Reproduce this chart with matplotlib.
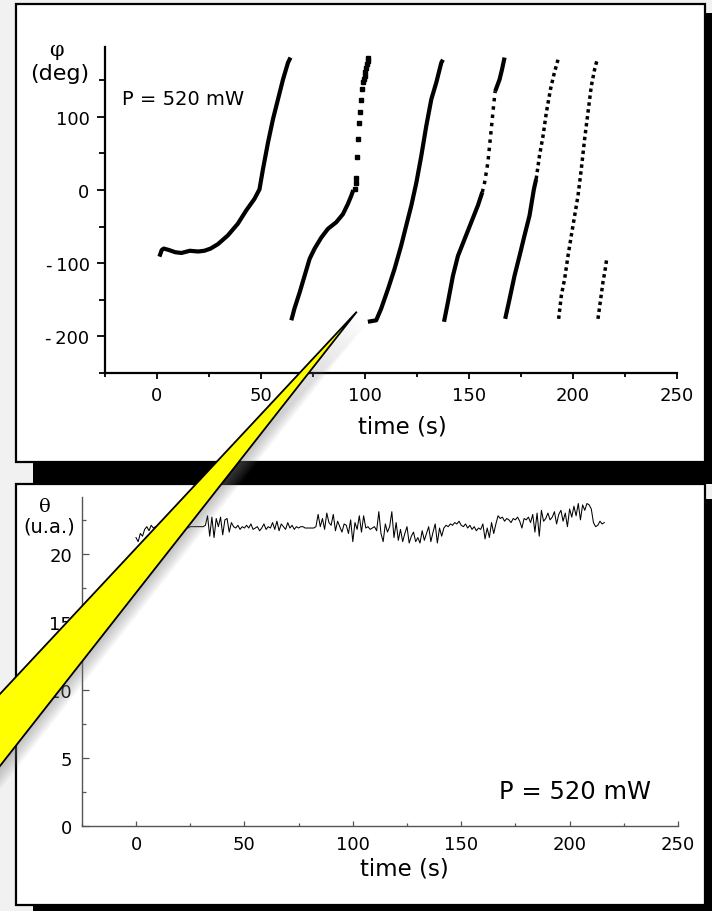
import numpy as np
import matplotlib
matplotlib.use("Agg")
import matplotlib.pyplot as plt
from matplotlib.patches import Rectangle, Polygon
from matplotlib.ticker import FixedLocator

# ------------------------------------------------------------------
# DATA
# top panel: phase phi (deg) vs time (s), one list per 2*pi branch
# "dense" = nearly continuous runs of samples, "dots" = sparse samples
seg1_t = [1.4, 2.5, 3.5, 6.0, 9.0, 12.0, 16.0, 20.0, 23.0, 26.0, 29.5, 34.3, 39.1,
          43.1, 47.1, 49.5, 51.2, 53.6, 56.0, 58.4, 60.8, 63.2, 64.4]
seg1_phi = [-91, -82, -80, -82, -85, -86, -83, -84, -83, -80, -74, -62, -46,
            -28, -12, 1, 29, 65, 97, 124, 151, 174, 181]

seg2_t = [64.8, 66.3, 68.8, 71.2, 73.6, 76.0, 79.2, 82.4, 86.4, 89.6, 92.0, 93.6, 94.6]
seg2_phi = [-178, -162, -140, -117, -94, -80, -65, -53, -44, -33, -19, -8, 0]
seg2_dot_t = [95.2, 95.7, 96.0, 96.3, 96.8, 97.3, 97.8, 98.1, 98.8, 99.2, 99.6,
              100.0, 100.4, 100.8, 101.2, 101.6, 101.9]
seg2_dot_phi = [1, 10, 17, 45, 70, 91, 106, 123, 138, 147, 152,
                156, 161, 167, 172, 176, 181]

seg3_t = [101.6, 105.6, 108.0, 111.3, 114.4, 117.6, 120.0, 122.5, 124.9, 127.3,
          129.7, 132.1, 134.5, 136.9, 137.7]
seg3_phi = [-180, -178, -162, -135, -108, -76, -49, -21, 10, 47, 88, 124, 147, 174, 178]

seg4_t = [138.2, 140.1, 142.5, 144.9, 148.1, 151.3, 154.5, 156.6]
seg4_phi = [-180, -153, -117, -90, -67, -44, -21, -3]
seg4_dot_t = [156.6, 157.7, 159.3, 160.9, 162.2, 162.8]
seg4_dot_phi = [-3, 10, 38, 83, 120, 135]
seg4_top_t = [162.8, 164.9, 166.1, 167.3]
seg4_top_phi = [135, 151, 165, 181]

seg5_t = [167.6, 169.7, 172.1, 174.5, 176.9, 179.3, 181.4, 182.5]
seg5_phi = [-176, -149, -117, -90, -62, -35, 1, 15]
seg5_dot_t = [182.5, 184.1, 185.8, 187.4, 189.4, 191.3, 193.0]
seg5_dot_phi = [15, 47, 74, 106, 138, 161, 178]

seg6_dot_t = [193.3, 194.6, 196.2, 197.8, 199.4, 201.0, 202.6, 204.2, 205.8,
              207.4, 209.0, 210.6, 211.9]
seg6_dot_phi = [-176, -144, -121, -90, -62, -35, -8, 29, 70, 106, 142, 165, 179]

seg7_dot_t = [212.2, 213.5, 214.6, 215.7, 216.4]
seg7_dot_phi = [-176, -149, -126, -108, -94]

# bottom panel: theta (u.a.) sampled every second from t = 0 s
theta_t0 = 0.0
theta_dt = 1.0
theta = [
    21.2, 20.9, 21.5, 21.3, 21.8,
    22.0, 21.7, 22.1, 21.9, 22.0,
    22.0, 21.8, 22.1, 22.0, 22.2, 21.9, 22.0, 22.1, 21.9, 22.0, 22.2, 22.1, 22.0, 22.0, 21.9,
    22.0, 22.0, 22.0, 22.0, 22.0, 22.0, 22.0,
    22.1, 22.8, 21.3, 22.7, 21.2, 22.6, 22.0, 22.7, 21.4, 22.5, 22.6, 21.6, 22.3, 22.0, 21.9,
    22.1, 21.8, 22.0, 21.9,
    22.1, 21.9, 22.2, 21.8, 21.9, 22.0, 21.7, 21.9, 22.2, 21.8, 22.0, 21.9, 22.3, 21.8, 22.4,
    21.7, 22.2, 22.0, 21.8, 22.3, 21.9, 22.1, 21.8, 22.0, 21.9, 22.0, 22.0,
    21.9, 21.9, 21.9, 21.9, 21.9, 22.0,
    22.9, 22.0, 22.6, 21.8, 23.0, 22.3, 22.1, 22.9, 21.7, 22.4, 22.0, 21.6, 22.2, 22.1, 21.5,
    22.5, 20.9, 22.3, 21.8, 22.8, 21.6,
    22.8, 21.9, 22.0, 21.8, 21.9, 22.0, 21.7, 23.1, 21.5, 20.9, 22.2, 21.6, 22.0, 23.1, 21.2,
    22.3, 21.0, 21.8, 20.9, 21.5, 22.0, 20.8, 21.3, 21.6, 20.9, 21.2, 20.8, 21.7, 21.0, 21.5,
    22.0, 20.9, 21.6, 22.2, 20.8, 21.9, 21.3,
    21.9, 22.1, 22.0, 22.2, 22.1, 22.3, 22.2, 22.4, 22.1, 22.0, 22.2, 21.9, 22.1, 21.8, 22.0,
    21.7, 21.9,
    21.8, 22.2, 21.1, 21.9, 21.2, 22.3, 21.5, 22.2,
    22.8, 22.6, 22.7, 22.4, 22.6, 22.5, 22.3, 22.6, 22.5, 22.7, 22.4, 21.9, 22.6, 22.5, 22.7,
    22.3,
    22.9, 21.6, 23.0, 21.3, 23.2, 22.4, 22.6,
    23.0, 22.5, 22.7, 23.1, 22.2, 22.9, 23.2, 22.4, 23.0, 22.0, 23.3, 22.7, 23.5, 22.8, 23.7,
    22.5, 23.6, 23.2, 23.7,
    23.6, 23.3, 22.3, 22.0, 22.1, 22.4, 22.2, 22.3,
]

# axes / tick definitions
top_xlim = (-25, 250)
top_ylim = (-250, 195)
top_yticks = [-200, -100, 0, 100]
top_yticklabels = ["-\u2009200", "-\u2009100", "0", "100"]
top_yminor = [-250, -150, -50, 50, 150]
xticks = [0, 50, 100, 150, 200, 250]
xticklabels = ["0", "50", "100", "150", "200", "250"]
xminor = [-25, 25, 75, 125, 175, 225]

bot_xlim = (-25, 250)
bot_ylim = (0, 24.2)
bot_yticks = [0, 5, 10, 15, 20]
bot_yticklabels = ["0", "5", "10", "15", "20"]
bot_yminor = [2.5, 7.5, 12.5, 17.5, 22.5]

label_time = "time (s)"
label_phi = "\u03c6"
label_deg = "(deg)"
label_theta = "\u03b8"
label_ua = "(u.a.)"
power_text = "P = 520 mW"

# ------------------------------------------------------------------
W, H = 712, 912
fig = plt.figure(figsize=(W / 100, H / 100), dpi=100)
fig.patch.set_facecolor("#f1f1f1")


def frac(x0, y_bot, x1, y_top):
    return [x0 / W, 1 - y_bot / H, (x1 - x0) / W, (y_bot - y_top) / H]


# background: panels and shadows (pixel coordinates)
bg = fig.add_axes([0, 0, 1, 1], zorder=-5)
bg.set_xlim(0, W)
bg.set_ylim(H, 0)
bg.axis("off")
bg.add_patch(Rectangle((33, 14), 700, 471, facecolor="black", edgecolor="none"))
bg.add_patch(Rectangle((16, 5), 689, 458, facecolor="white", edgecolor="black", lw=1.6))
bg.add_patch(Rectangle((33, 500), 700, 440, facecolor="black", edgecolor="none"))
bg.add_patch(Rectangle((16, 485), 689, 421, facecolor="white", edgecolor="black", lw=1.6))

tick_font = dict(family="DejaVu Sans", size=13)

# ---------------- top panel ----------------
ax1 = fig.add_axes(frac(104.5, 374, 676.6, 48.3), zorder=1)
ax1.patch.set_alpha(0)
ax1.set_xlim(*top_xlim)
ax1.set_ylim(*top_ylim)
for s in ["top", "right"]:
    ax1.spines[s].set_visible(False)
for s in ["left", "bottom"]:
    ax1.spines[s].set_linewidth(1.6)
ax1.xaxis.set_major_locator(FixedLocator(xticks))
ax1.set_xticklabels(xticklabels, **tick_font)
ax1.xaxis.set_minor_locator(FixedLocator(xminor))
ax1.yaxis.set_major_locator(FixedLocator(top_yticks))
ax1.set_yticklabels(top_yticklabels, **tick_font)
ax1.yaxis.set_minor_locator(FixedLocator(top_yminor))
ax1.tick_params(axis="y", which="major", direction="out", length=5.8, width=1.3, pad=5.0)
ax1.tick_params(axis="y", which="minor", direction="out", length=4.6, width=1.3)
ax1.tick_params(axis="x", which="major", direction="out", length=4.3, width=1.3, pad=5.0)
ax1.tick_params(axis="x", which="minor", direction="out", length=3.2, width=1.3)

dense_kw = dict(color="black", lw=3.0, solid_capstyle="butt", solid_joinstyle="round")
dot_kw = dict(color="black", lw=2.5, ls=(0, (1.0, 1.0)), dash_capstyle="butt")

ax1.plot(seg1_t, seg1_phi, **dense_kw)
ax1.plot(seg2_t, seg2_phi, **dense_kw)
ax1.plot(seg2_dot_t, seg2_dot_phi, ls="none", marker="s", ms=2.6, color="black")
ax1.plot(seg3_t, seg3_phi, **dense_kw)
ax1.plot(seg4_t, seg4_phi, **dense_kw)
ax1.plot(seg4_dot_t, seg4_dot_phi, **dict(dot_kw, ls=(0, (1.0, 1.4))))
ax1.plot(seg4_top_t, seg4_top_phi, **dense_kw)
ax1.plot(seg5_t, seg5_phi, **dense_kw)
ax1.plot(seg5_dot_t, seg5_dot_phi, **dot_kw)
ax1.plot(seg6_dot_t, seg6_dot_phi, **dot_kw)
ax1.plot(seg7_dot_t, seg7_dot_phi, **dot_kw)

# ---------------- bottom panel ----------------
ax2 = fig.add_axes(frac(81.8, 827.3, 678, 497.7), zorder=1)
ax2.patch.set_alpha(0)
ax2.set_xlim(*bot_xlim)
ax2.set_ylim(*bot_ylim)
for s in ["top", "right"]:
    ax2.spines[s].set_visible(False)
for s in ["left", "bottom"]:
    ax2.spines[s].set_linewidth(1.0)
    ax2.spines[s].set_color("#555555")
ax2.xaxis.set_major_locator(FixedLocator(xticks))
ax2.set_xticklabels(xticklabels, **tick_font)
ax2.xaxis.set_minor_locator(FixedLocator(xminor))
ax2.yaxis.set_major_locator(FixedLocator(bot_yticks))
ax2.set_yticklabels(bot_yticklabels, **tick_font)
ax2.yaxis.set_minor_locator(FixedLocator(bot_yminor))
ax2.tick_params(axis="y", which="major", direction="in", length=5.0, width=0.9,
                color="#555555", pad=7.0)
ax2.tick_params(axis="y", which="minor", direction="in", length=3.0, width=0.9, color="#555555")
ax2.tick_params(axis="x", which="major", direction="in", length=3.5, width=0.9,
                color="#555555", pad=6.5)
ax2.tick_params(axis="x", which="minor", direction="in", length=2.0, width=0.9, color="#555555")

theta_time = theta_t0 + theta_dt * np.arange(len(theta))
ax2.plot(theta_time, theta, color="black", lw=0.75)

# ---------------- texts (pixel positions) ----------------
bg.text(402, 427.5, label_time, ha="center", va="center", family="DejaVu Sans", size=16.5)
bg.text(404.5, 869, label_time, ha="center", va="center", family="DejaVu Sans", size=16.5)
bg.text(56.5, 50, label_phi, ha="center", va="center", family="DejaVu Serif", size=15)
bg.text(60, 74.5, label_deg, ha="center", va="center", family="DejaVu Sans", size=16)
bg.text(45, 507, label_theta, ha="center", va="center", family="DejaVu Serif", size=14)
bg.text(49, 527.5, label_ua, ha="center", va="center", family="DejaVu Sans", size=14)
bg.text(121.5, 105, power_text, ha="left", va="baseline", family="DejaVu Sans", size=14)
bg.text(499, 799, power_text, ha="left", va="baseline", family="DejaVu Sans", size=17.5)

# ---------------- yellow callout overlay ----------------
ov = fig.add_axes([0, 0, 1, 1], zorder=10)
ov.set_xlim(0, W)
ov.set_ylim(H, 0)
ov.axis("off")
tip = (356.8, 312.7)
wedge = [tip, (-20, 716.4), (-20, 792.4)]
for d in range(2, 12):
    sh = [(x + d, y + d * 0.9) for x, y in wedge]
    ov.add_patch(Polygon(sh, closed=True, facecolor="#808080", edgecolor="none",
                         alpha=0.05))
ov.add_patch(Polygon(wedge, closed=True, facecolor="#ffff00", edgecolor="black",
                     lw=1.3, joinstyle="miter"))

fig.savefig("out.png", dpi=100)
